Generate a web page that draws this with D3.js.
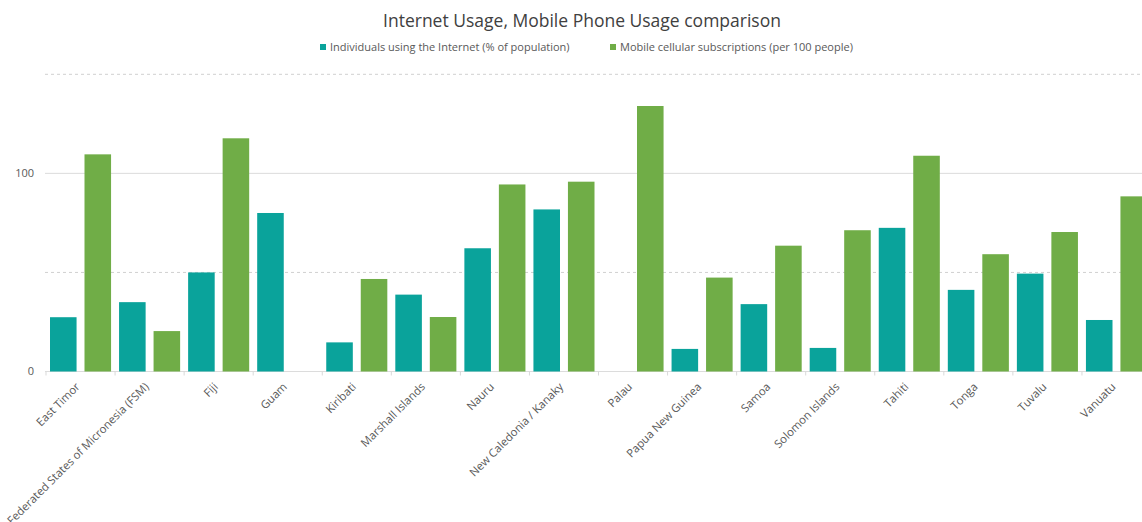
<!DOCTYPE html>
<html>
<head>
<meta charset="utf-8">
<script src="https://cdn.jsdelivr.net/npm/d3@7"></script>
<style>
  html, body { margin: 0; padding: 0; background: #fff; overflow: hidden; }
  svg { display: block; font-family: "Open Sans", "Noto Sans", sans-serif; }
</style>
</head>
<body>
<svg id="chart" width="1142" height="522"></svg>
<script>
// Pacific countries and territories
const categories = [
  "East Timor", "Federated States of Micronesia (FSM)", "Fiji", "Guam",
  "Kiribati", "Marshall Islands", "Nauru", "New Caledonia / Kanaky",
  "Palau", "Papua New Guinea", "Samoa", "Solomon Islands",
  "Tahiti", "Tonga", "Tuvalu", "Vanuatu"
];

const seriesNames = [
  "Individuals using the Internet (% of population)",
  "Mobile cellular subscriptions (per 100 people)"
];

// Individuals using the Internet (% of population); null = no data
const internetUsers = [27.4, 35.0, 50.0, 80.0, 14.7, 38.8, 62.2, 81.8,
                       null, 11.4, 34.0, 11.9, 72.5, 41.2, 49.4, 26.0];

// Mobile cellular subscriptions (per 100 people); null = no data
const mobileSubs = [109.6, 20.4, 117.7, null, 46.7, 27.5, 94.4, 95.8,
                    134.0, 47.4, 63.5, 71.3, 108.9, 59.2, 70.4, 88.4];

const yLabelTicks = [0, 100];
const gridValues = [0, 50, 100, 150];

const colors = ["#0aa39b", "#70ad47"];

const svg = d3.select("#chart");

const plot = { left: 46, right: 1151, top: 74.3, bottom: 371.5 };

const x0 = d3.scaleBand()
  .domain(categories)
  .range([plot.left, plot.right])
  .paddingInner(0)
  .paddingOuter(0);

const step = x0.bandwidth();

const x1 = d3.scaleBand()
  .domain(seriesNames)
  .range([4, step - 4])
  .paddingInner(0.23)
  .paddingOuter(0);

const y = d3.scaleLinear()
  .domain([0, 150])
  .range([plot.bottom, plot.top]);

// Horizontal gridlines: solid at 0 and 100, dashed in between
svg.append("g")
  .selectAll("line")
  .data(gridValues)
  .join("line")
  .attr("x1", plot.left - 1)
  .attr("x2", 1142)
  .attr("y1", d => y(d))
  .attr("y2", d => y(d))
  .attr("stroke", d => d % 100 === 0 ? "#dcdcdc" : "#d0d0d0")
  .attr("stroke-width", 1)
  .attr("stroke-dasharray", d => d % 100 === 0 ? null : "3,3");

// Y-axis tick labels
svg.append("g")
  .selectAll("text")
  .data(yLabelTicks)
  .join("text")
  .attr("x", 34)
  .attr("y", d => y(d))
  .attr("dy", "0.35em")
  .attr("text-anchor", "end")
  .attr("font-size", 11)
  .attr("fill", "#595959")
  .text(d => d);

// Small tick marks at category boundaries
svg.append("g")
  .selectAll("line")
  .data(categories.map((c, i) => i).concat([categories.length]))
  .join("line")
  .attr("x1", i => plot.left + i * step)
  .attr("x2", i => plot.left + i * step)
  .attr("y1", plot.bottom)
  .attr("y2", plot.bottom + 4)
  .attr("stroke", "#d9d9d9");

// Bars
const rows = categories.map((c, i) => ({
  cat: c,
  vals: [internetUsers[i], mobileSubs[i]]
}));

svg.append("g")
  .selectAll("g")
  .data(rows)
  .join("g")
  .attr("transform", d => `translate(${x0(d.cat)},0)`)
  .selectAll("rect")
  .data(d => d.vals.map((v, k) => ({ key: seriesNames[k], v, k })).filter(e => e.v != null))
  .join("rect")
  .attr("x", e => x1(e.key))
  .attr("width", x1.bandwidth())
  .attr("y", e => y(e.v))
  .attr("height", e => y(0) - y(e.v))
  .attr("fill", e => colors[e.k]);

// Category labels rotated 45 degrees
svg.append("g")
  .selectAll("text")
  .data(categories)
  .join("text")
  .attr("text-anchor", "end")
  .attr("font-size", 11.3)
  .attr("fill", "#595959")
  .attr("transform", d => `translate(${x0(d) + step / 2},${plot.bottom + 16}) rotate(-45)`)
  .text(d => d);

// Title
svg.append("text")
  .attr("x", 582)
  .attr("y", 27)
  .attr("text-anchor", "middle")
  .attr("font-size", 17.5)
  .attr("fill", "#404040")
  .text("Internet Usage, Mobile Phone Usage comparison");

// Legend
const legendX = [320, 610];
const legend = svg.append("g")
  .selectAll("g")
  .data(seriesNames)
  .join("g")
  .attr("transform", (d, i) => `translate(${legendX[i]},47)`);

legend.append("rect")
  .attr("x", 0)
  .attr("y", -3)
  .attr("width", 6)
  .attr("height", 6)
  .attr("fill", (d, i) => colors[i]);

legend.append("text")
  .attr("x", 10)
  .attr("y", 0)
  .attr("dy", "0.35em")
  .attr("font-size", 11)
  .attr("fill", "#595959")
  .text(d => d);
</script>
</body>
</html>
